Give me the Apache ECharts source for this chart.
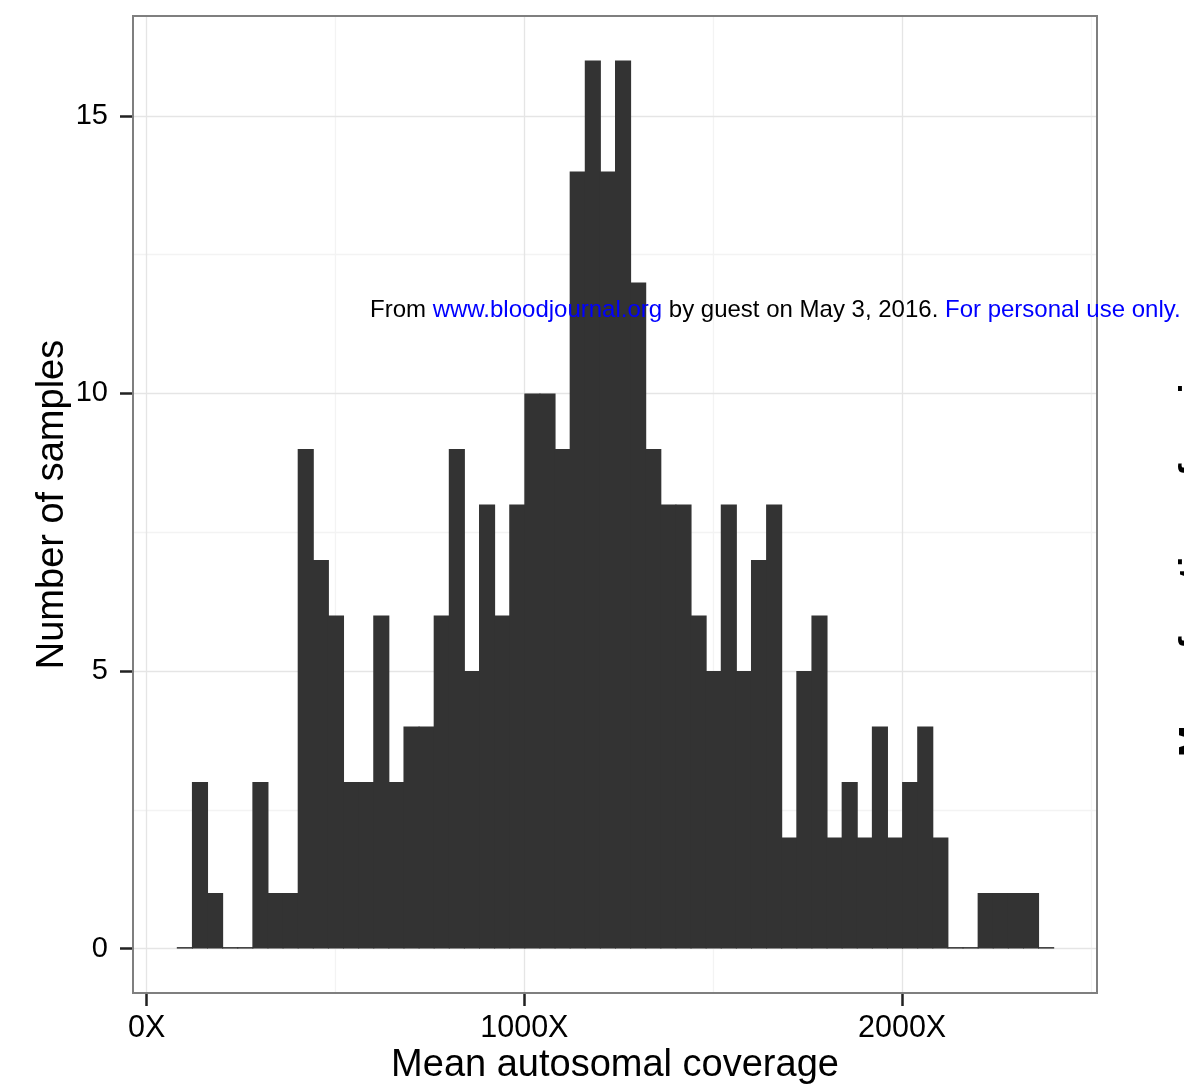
<!DOCTYPE html>
<html>
<head>
<meta charset="utf-8">
<style>
  html, body { margin: 0; padding: 0; background: #ffffff; }
  #chart { width: 1184px; height: 1088px; }
</style>
<script src="https://cdn.jsdelivr.net/npm/echarts@6/dist/echarts.min.js"></script>
</head>
<body>
<div id="chart"></div>
<script>
// ---- Data ----
const binStarts = [80, 120, 160, 200, 240, 280, 320, 360, 400, 440,
  480, 520, 560, 600, 640, 680, 720, 760, 800, 840,
  880, 920, 960, 1000, 1040, 1080, 1120, 1160, 1200, 1240,
  1280, 1320, 1360, 1400, 1440, 1480, 1520, 1560, 1600, 1640,
  1680, 1720, 1760, 1800, 1840, 1880, 1920, 1960, 2000, 2040,
  2080, 2120, 2160, 2200, 2240, 2280, 2320, 2360];
const binWidth = 40;
const counts = [0, 3, 1, 0, 0, 3, 1, 1, 9, 7,
  6, 3, 3, 6, 3, 4, 4, 6, 9, 5,
  8, 6, 8, 10, 10, 9, 14, 16, 14, 16,
  12, 9, 8, 8, 6, 5, 8, 5, 7, 8,
  2, 5, 6, 2, 3, 2, 4, 2, 3, 4,
  2, 0, 0, 1, 1, 1, 1, 0];

const xTickValues = [0, 1000, 2000];
const xTickLabels = ['0X', '1000X', '2000X'];
const xMinorGrid = [500, 1500, 2500];
const yTickValues = [0, 5, 10, 15];
const yTickLabels = ['0', '5', '10', '15'];
const yMinorGrid = [2.5, 7.5, 12.5];

const xTitle = 'Mean autosomal coverage';
const yTitle = 'Number of samples';

// ---- Build chart ----
const chart = echarts.init(document.getElementById('chart'), null, { renderer: 'canvas' });
const FONT = '"Liberation Sans", Arial, Helvetica, sans-serif';

const histData = binStarts.map((s, i) => [s, s + binWidth, counts[i]]);

const majorLine = { color: '#e5e5e5', width: 1.3, type: 'solid' };
const minorLine = { color: '#f3f3f3', width: 1.3, type: 'solid' };
const gridLines = []
  .concat(xMinorGrid.map(v => ({ xAxis: v, lineStyle: minorLine })))
  .concat(yMinorGrid.map(v => ({ yAxis: v, lineStyle: minorLine })))
  .concat(xTickValues.map(v => ({ xAxis: v, lineStyle: majorLine })))
  .concat(yTickValues.map(v => ({ yAxis: v, lineStyle: majorLine })));

const option = {
  backgroundColor: '#ffffff',
  animation: false,
  grid: {
    left: 133, top: 16, right: 87, bottom: 95,
    outerBoundsMode: 'none',
    containLabel: false,
    show: true, borderColor: '#7f7f7f', borderWidth: 2, backgroundColor: 'transparent',
    z: 10
  },
  xAxis: {
    type: 'value',
    min: -36, max: 2516,
    position: 'bottom',
    axisLine: { show: false, onZero: false },
    splitLine: { show: false },
    axisTick: { show: true, inside: false, length: 13, customValues: xTickValues,
      lineStyle: { color: '#222', width: 2.5 } },
    axisLabel: { show: true, margin: 20, customValues: xTickValues,
      formatter: v => xTickLabels[xTickValues.indexOf(v)],
      color: '#000', fontSize: 30.5, fontFamily: FONT },
    name: xTitle, nameLocation: 'middle', nameGap: 54, nameMoveOverlap: false,
    nameTextStyle: { color: '#000', fontSize: 38, fontFamily: FONT }
  },
  yAxis: {
    type: 'value',
    min: -0.8, max: 16.8,
    position: 'left',
    axisLine: { show: false, onZero: false },
    splitLine: { show: false },
    axisTick: { show: true, inside: false, length: 13, customValues: yTickValues,
      lineStyle: { color: '#222', width: 2.5 } },
    axisLabel: { show: true, margin: 25, customValues: yTickValues,
      formatter: v => yTickLabels[yTickValues.indexOf(v)],
      color: '#000', fontSize: 29, fontFamily: FONT },
    name: yTitle, nameLocation: 'middle', nameGap: 61, nameRotate: 90, nameMoveOverlap: false,
    nameTextStyle: { color: '#000', fontSize: 38, fontFamily: FONT }
  },
  series: [
    {
      type: 'line',
      data: [],
      silent: true,
      z: 1,
      markLine: {
        silent: true, symbol: 'none', z: 1, animation: false,
        label: { show: false },
        data: gridLines
      }
    },
    {
      type: 'custom',
      z: 3,
      silent: true,
      data: histData,
      encode: { x: [0, 1], y: 2 },
      renderItem: function (params, api) {
        const x0 = api.value(0), x1 = api.value(1), c = api.value(2);
        const pTop = api.coord([x0, c]);
        const pBase = api.coord([x1, 0]);
        let y = pTop[1];
        let h = pBase[1] - pTop[1];
        if (h < 1.5) { y = pBase[1] - 1.5; h = 1.5; }
        return {
          type: 'rect',
          shape: { x: pTop[0], y: y, width: pBase[0] - pTop[0] + 1, height: h },
          style: { fill: '#333333' }
        };
      }
    }
  ],
  graphic: [
    {
      type: 'text', left: 370, top: 298, z: 100,
      style: {
        text: '{k|From }{b|www.bloodjournal.org}{k| by guest on May 3, 2016. }{b|For personal use only.}',
        font: '24px ' + FONT,
        rich: {
          k: { fill: '#000000', fontSize: 24, fontFamily: FONT },
          b: { fill: '#0000ff', fontSize: 24, fontFamily: FONT }
        }
      }
    },
    {
      type: 'text', x: 1177, y: 757, rotation: Math.PI / 2, z: 100,
      style: {
        text: 'Mean fraction of regions',
        font: 'bold 38px ' + FONT,
        fill: '#000000',
        align: 'left', verticalAlign: 'top'
      }
    }
  ]
};
chart.setOption(option);
</script>
</body>
</html>
